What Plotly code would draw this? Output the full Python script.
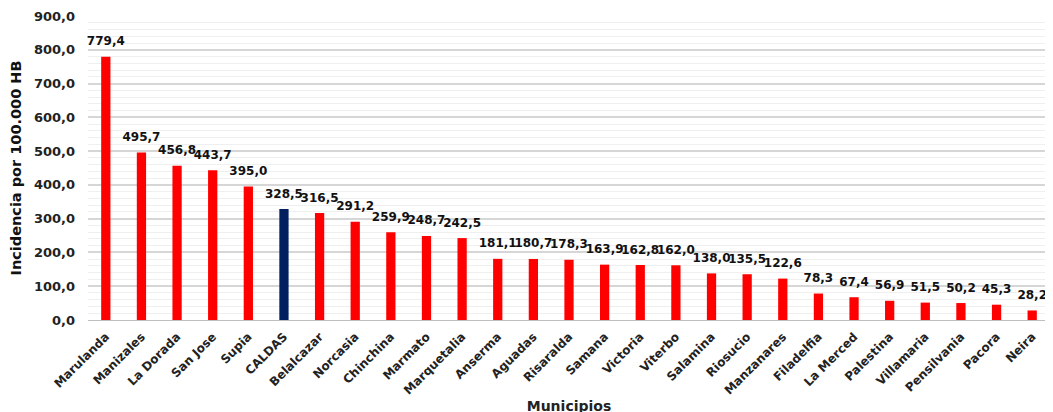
import plotly.graph_objects as go

municipios = ["Marulanda", "Manizales", "La Dorada", "San Jose", "Supia", "CALDAS", "Belalcazar",
              "Norcasia", "Chinchina", "Marmato", "Marquetalia", "Anserma", "Aguadas", "Risaralda",
              "Samana", "Victoria", "Viterbo", "Salamina", "Riosucio", "Manzanares", "Filadelfia",
              "La Merced", "Palestina", "Villamaria", "Pensilvania", "Pacora", "Neira"]
incidencia = [779.4, 495.7, 456.8, 443.7, 395.0, 328.5, 316.5, 291.2, 259.9, 248.7, 242.5, 181.1,
              180.7, 178.3, 163.9, 162.8, 162.0, 138.0, 135.5, 122.6, 78.3, 67.4, 56.9, 51.5, 50.2,
              45.3, 28.2]
colors = ["#002060" if m == "CALDAS" else "#FF0000" for m in municipios]

fig = go.Figure()
fig.add_trace(go.Bar(
    x=municipios, y=incidencia, marker=dict(color=colors, line=dict(width=0)),
    width=0.26, hoverinfo="x+y",
))
fig.add_trace(go.Scatter(
    x=municipios, y=incidencia, mode="markers+text", texttemplate="%{y:.1f}",
    textposition="top center", marker=dict(size=12, opacity=0),
    textfont=dict(family="DejaVu Sans", size=12, color="#111111", weight="bold"),
    cliponaxis=False, hoverinfo="skip",
))
fig.update_layout(
    width=1053, height=412, plot_bgcolor="white", paper_bgcolor="white",
    margin=dict(l=80, r=11, t=8, b=100), separators=",.", showlegend=False,
    font=dict(family="DejaVu Sans", size=12, color="#222222"),
)
fig.update_xaxes(
    range=[-0.5, len(municipios) - 0.5], ticklabelstandoff=4,
    tickangle=-45, tickfont=dict(family="DejaVu Sans", size=12, color="#222222", weight="bold"),
    title=dict(text="<b>Municipios</b>", font=dict(size=14), standoff=4),
    showline=True, linecolor="#bfbfbf", linewidth=1, ticks="", automargin=False,
)
fig.update_yaxes(
    range=[0, 900], dtick=100, tickformat=".1f", automargin=False, ticklabelstandoff=12,
    tickfont=dict(family="DejaVu Sans", size=13, color="#222222", weight="bold"),
    title=dict(text="Incidencia por 100.000 HB", font=dict(size=14.5, color="#111111", weight=600), standoff=8),
    showgrid=True, gridcolor="#d6d6d6", gridwidth=1.5, zeroline=False,
    minor=dict(dtick=20, showgrid=True, gridcolor="#efefef", gridwidth=1),
)
fig.write_html("out.html")
